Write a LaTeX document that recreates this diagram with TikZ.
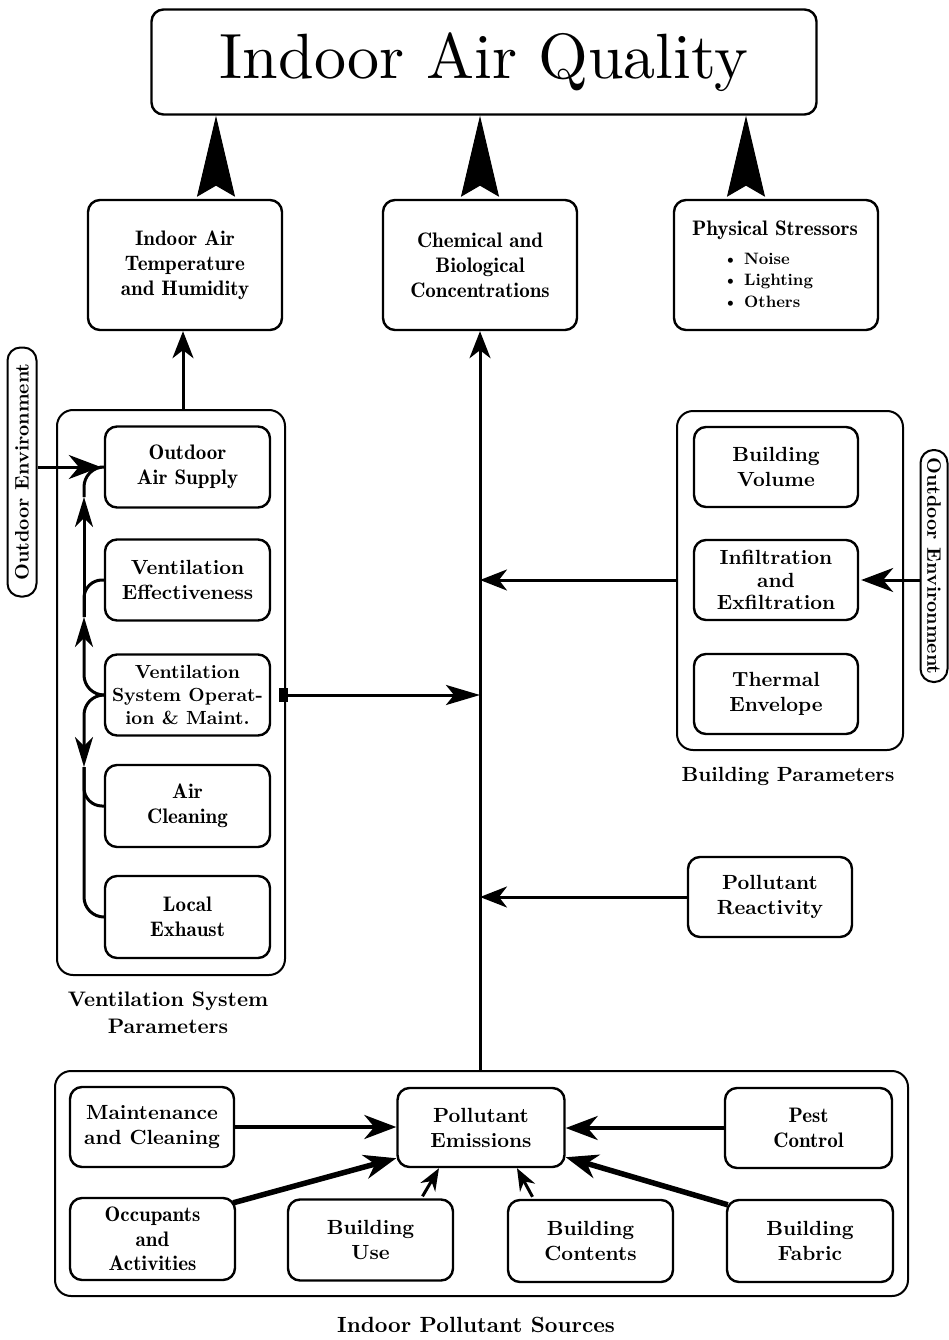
\documentclass[tikz,border=0pt]{standalone}
\usepackage{fontspec}
\setmainfont{lmroman10}[Extension=.otf,UprightFont=*-regular,BoldFont=*-bold,
  ItalicFont=*-italic,BoldItalicFont=*-bolditalic]
\newfontfamily\demifont{lmromandemi10}[Extension=.otf,UprightFont=*-regular]
\usetikzlibrary{arrows.meta,calc}

\begin{document}
\begin{tikzpicture}[x=1pt,y=-1pt,
  box/.style={draw,line width=2.4pt,rounded corners=12pt,align=center,inner sep=0pt},
  panel/.style={draw,line width=2pt,rounded corners=16pt},
  tag/.style={draw,line width=2pt,rounded corners=13pt,inner sep=0pt,
              font=\fontsize{19.5}{22}\selectfont\bfseries},
  bt/.style={font=\fontsize{20.5}{25}\selectfont\bfseries},
  pt/.style={font=\fontsize{21}{25}\selectfont\demifont},
  conn/.style={line width=3pt},
  thickconn/.style={line width=4pt},
  heavyconn/.style={line width=5.5pt},
  arrA/.style={-{Stealth[length=27pt,width=21pt,inset=8pt]}},
  arrB/.style={-{Stealth[length=32pt,width=24pt,inset=10pt]}},
  arrC/.style={-{Stealth[length=22pt,width=17pt,inset=7pt]}},
  arrV/.style={-{Stealth[length=30pt,width=18pt,inset=9pt]}},
  bigarr/.style={line width=1pt,shorten <=13pt,-{Stealth[length=81pt,width=38pt,inset=11pt]}}
]
\useasboundingbox (0,0) rectangle (948,1340);
\fill[white] (0,0) rectangle (948,1340);

% title and the three effect boxes
\node[box,minimum width=665pt,minimum height=105pt,font=\fontsize{64}{70}\selectfont] (title) at (484,62) {Indoor Air Quality};
\node[box,pt,minimum width=194pt,minimum height=130pt] (b1) at (185,265) {Indoor Air\\Temperature\\and Humidity};
\node[box,pt,minimum width=194pt,minimum height=130pt] (b2) at (480,265) {Chemical and\\Biological\\Concentrations};
\node[box,minimum width=204pt,minimum height=130pt] (b3) at (776,265) {};
\node[pt] (b3head) at (775,230) {Physical Stressors};
\node[align=left,font=\fontsize{16.5}{21.5}\selectfont\bfseries] (b3list) at (768,280)
  {\textbullet\ Noise\\ \textbullet\ Lighting\\ \textbullet\ Others};

% ventilation system parameters
\node[panel,minimum width=228pt,minimum height=565pt] (vpanel) at (171,692.5) {};
\node[box,pt,minimum width=165pt,minimum height=81pt] (oas) at (187.5,467) {Outdoor\\Air Supply};
\node[box,bt,minimum width=165pt,minimum height=81pt] (veff) at (187.5,580) {Ventilation\\Effectiveness};
\node[box,minimum width=165pt,minimum height=81pt,font=\fontsize{19}{23}\selectfont\bfseries] (vop) at (187.5,695) {Ventilation\\System Operat-\\ion \& Maint.};
\node[box,pt,minimum width=165pt,minimum height=82pt] (aclean) at (187.5,806) {Air\\Cleaning};
\node[box,pt,minimum width=165pt,minimum height=82pt] (lexh) at (187.5,917) {Local\\Exhaust};
\node[align=center,font=\fontsize{21}{27}\selectfont\bfseries] (vlabel) at (168,1013) {Ventilation System\\Parameters};

% building parameters
\node[panel,minimum width=226pt,minimum height=339pt] (bpanel) at (790,580.5) {};
\node[box,bt,minimum width=164pt,minimum height=80pt] (bvol) at (776,467) {Building\\Volume};
\node[box,minimum width=164pt,minimum height=80pt,font=\fontsize{20.5}{22.5}\selectfont\bfseries] (infil) at (776,580) {Infiltration\\and\\Exfiltration};
\node[box,bt,minimum width=164pt,minimum height=80pt] (therm) at (776,694) {Thermal\\Envelope};
\node[font=\fontsize{20.5}{25}\selectfont\bfseries] (blabel) at (788,776) {Building Parameters};

% outdoor environment tags
\node[tag,rotate=90,minimum width=249pt,minimum height=29pt] (oel) at (22,472) {Outdoor Environment};
\node[tag,rotate=-90,minimum width=232pt,minimum height=27pt] (oer) at (934,566) {Outdoor Environment};

% pollutant reactivity
\node[box,bt,minimum width=164pt,minimum height=80pt] (react) at (770,897) {Pollutant\\Reactivity};

% indoor pollutant sources
\node[panel,minimum width=853pt,minimum height=225pt] (spanel) at (481.5,1183.5) {};
\node[box,bt,minimum width=164pt,minimum height=80pt] (maint) at (152,1127) {Maintenance\\and Cleaning};
\node[box,bt,minimum width=167pt,minimum height=79pt] (emis) at (481,1127.5) {Pollutant\\Emissions};
\node[box,pt,minimum width=167pt,minimum height=80pt] (pest) at (808.5,1128) {Pest\\Control};
\node[box,minimum width=165pt,minimum height=82pt,font=\fontsize{21}{24.5}\selectfont\demifont] (occ) at (152.5,1239) {Occupants\\and\\Activities};
\node[box,bt,minimum width=165pt,minimum height=81pt] (buse) at (370.5,1240) {Building\\Use};
\node[box,bt,minimum width=165pt,minimum height=82pt] (bcont) at (590.5,1241) {Building\\Contents};
\node[box,bt,minimum width=166pt,minimum height=82pt] (bfab) at (810,1241) {Building\\Fabric};
\node[font=\fontsize{22}{25}\selectfont\bfseries] (slabel) at (476,1325) {Indoor Pollutant Sources};

% heavy arrows into the title
\draw[bigarr] ([xshift=31pt]b1.north) -- ([xshift=31pt]b1.north |- title.south);
\draw[bigarr] (b2.north) -- (b2.north |- title.south);
\draw[bigarr] ([xshift=-30pt]b3.north) -- ([xshift=-30pt]b3.north |- title.south);

% main trunk and the arrows that feed it
\draw[conn,arrA] ([xshift=12pt]vpanel.north) -- ([xshift=12pt]vpanel.north |- b1.south);
\draw[conn,arrA] (spanel.north -| b2.south) -- (b2.south);
\draw[conn,arrA] (infil.west -| bpanel.west) -- (infil.west -| b2.south);
\draw[conn,arrA] (react.west) -- (react.west -| b2.south);
\coordinate (vstart) at ($(vop.east -| vpanel.east)+(-7,0)$);
\draw[conn,{Square[length=9pt,width=14pt]}-{Stealth[length=34pt,width=20pt,inset=8pt]}] (vstart) -- (vop.east -| b2.south);

% outdoor environment inputs
\draw[conn,arrB] (oel.south |- oas.west) -- ([xshift=-3pt]oas.west);
\draw[conn,arrB] (oer.south |- infil.east) -- ([xshift=2pt]infil.east);

% links inside the ventilation panel
\coordinate (vx1) at (84,617);
\coordinate (vx2) at (84,497);
\coordinate (vx3) at (84,767);
\draw[conn,rounded corners=20pt,arrV] (vop.west) -| (vx1);
\draw[conn,arrV] (vx1) -- (vx2);
\draw[conn,rounded corners=20pt] (vx2) |- ([xshift=-4pt]oas.west);
\draw[conn,rounded corners=18pt] (veff.west) -| (vx1);
\draw[conn,rounded corners=20pt,arrV] (vop.west) -| (vx3);
\draw[conn,rounded corners=20pt] (vx3) |- (lexh.west);
\draw[conn,rounded corners=18pt] (aclean.west) -| (vx3);

% sources feeding pollutant emissions
\draw[thickconn,arrB] (maint.east) -- (maint.east -| emis.west);
\draw[thickconn,arrB] (pest.west) -- (pest.west -| emis.east);
\draw[heavyconn,arrB] ($(occ.north east)+(-3,6)$) -- ($(emis.south west)+(0,-10)$);
\draw[heavyconn,arrB] ($(bfab.north west)+(2,6)$) -- ($(emis.south east)+(0,-11)$);
\draw[conn,arrC] ($(buse.north)+(52,-2)$) -- ($(emis.south)+(-42,0)$);
\draw[conn,arrC] ($(bcont.north)+(-58,-2)$) -- ($(emis.south)+(36,0)$);
\end{tikzpicture}
\end{document}
